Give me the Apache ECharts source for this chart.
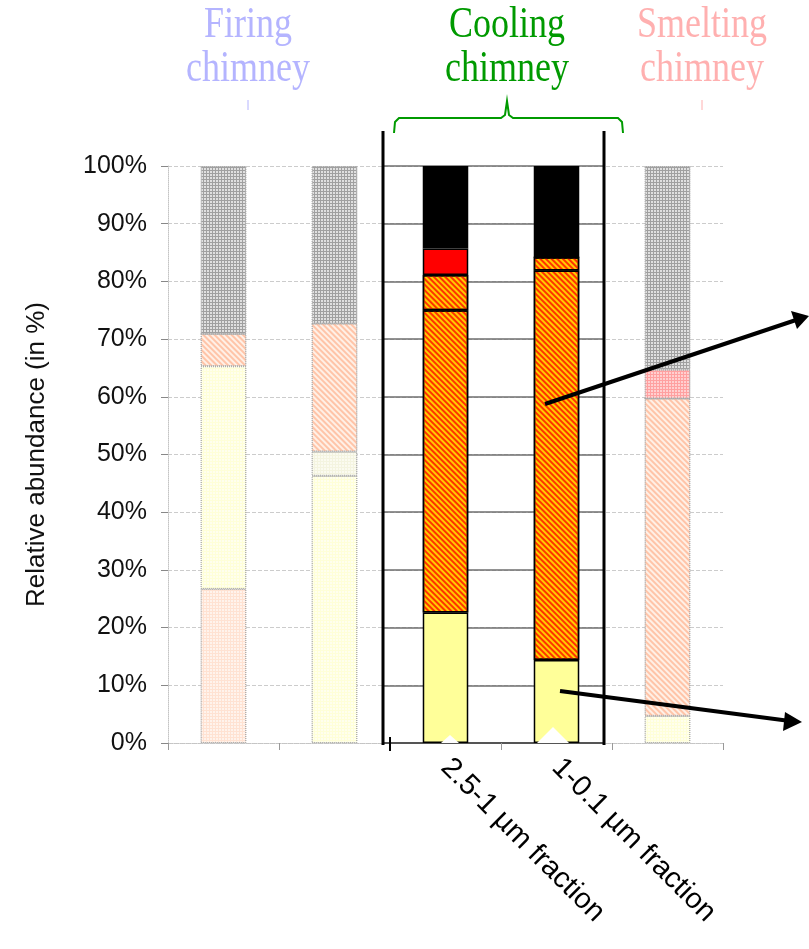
<!DOCTYPE html>
<html>
<head>
<meta charset="utf-8">
<script src="https://cdn.jsdelivr.net/npm/echarts@6/dist/echarts.min.js"></script>
<style>
html, body { margin: 0; padding: 0; background: #fff; }
#chart { width: 809px; height: 949px; }
</style>
</head>
<body>
<div id="chart"></div>
<script>
// categories (only the cooling chimney fractions are labelled)
var categories = ['', '', '2.5-1 µm fraction', '1-0.1 µm fraction', ''];
// stacked layers, bottom to top, in %
var baseLayer  = [26.7, 46.3, 22.6, 14.4, 4.7];
var mainLayer  = [38.6, 4.2, 52.4, 67.5, 55.0];
var minorLayer = [5.6, 22.2, 6.1, 2.3, 0];
var redLayer   = [0, 0, 4.6, 0, 5.0];
var topLayer   = [29.1, 27.3, 14.3, 15.8, 35.3];
var yTicks = [0, 10, 20, 30, 40, 50, 60, 70, 80, 90, 100];

// which bars are greyed out (firing / smelting chimney)
var faded = [true, true, false, false, true];

var hatch = { symbol: 'rect', symbolSize: 1, color: '#ff3300', dashArrayX: [1, 0], dashArrayY: [1.5, 1.5], rotation: Math.PI / 4 };
var paleHatch = { symbol: 'rect', symbolSize: 1, color: '#ffc4a8', dashArrayX: [1, 0], dashArrayY: [1.5, 1.5], rotation: Math.PI / 4 };
var dots = function (c) {
	return { symbol: 'rect', symbolSize: 1, color: c, dashArrayX: [2, 1], dashArrayY: [2, 1] };
};

// fill for each layer and bar
var styles = {
	base:  [{ c: '#ffe2d2', d: dots('#fff3ec') }, { c: '#ffffd8', d: dots('#ffffee') }, { c: '#ffff99' }, { c: '#ffff99' }, { c: '#ffffd8', d: dots('#ffffee') }],
	main:  [{ c: '#ffffd8', d: dots('#ffffee') }, { c: '#f4f4e0', d: dots('#fbfbf0') }, { c: '#ffcc00', d: hatch }, { c: '#ffcc00', d: hatch }, { c: '#fff0e6', d: paleHatch }],
	minor: [{ c: '#fff0e6', d: paleHatch }, { c: '#fff0e6', d: paleHatch }, { c: '#ffcc00', d: hatch }, { c: '#ffcc00', d: hatch }, { c: '#fff0e6', d: paleHatch }],
	red:   [{ c: '#ffaaaa' }, { c: '#ffaaaa' }, { c: '#ff0000' }, { c: '#ff0000' }, { c: '#ffa0a0', d: dots('#ffd0d0') }],
	top:   [{ c: '#a0a0a0', d: dots('#e0e0e0') }, { c: '#a0a0a0', d: dots('#e0e0e0') }, { c: '#000000' }, { c: '#000000' }, { c: '#a0a0a0', d: dots('#e0e0e0') }]
};

function layer(name, values) {
	return {
		name: name,
		type: 'bar',
		stack: 'total',
		barWidth: '41%',
		xAxisIndex: 0,
		yAxisIndex: 0,
		data: values.map(function (v, i) {
			var s = styles[name][i];
			return {
				value: v,
				itemStyle: {
					color: s.c,
					decal: s.d || null,
					borderColor: faded[i] ? '#aaaaaa' : '#000000',
					borderWidth: faded[i] ? 1 : 1.5,
					borderType: faded[i] ? 'dotted' : 'solid'
				}
			};
		})
	};
}

// stretched serif heading text
function heading(x, y, txt, color) {
	return {
		type: 'text', z: 50, x: x, y: y, scaleY: 1.22,
		style: { text: txt, fontFamily: 'Liberation Serif, Times New Roman', fontSize: 36, fill: color, textAlign: 'center', textVerticalAlign: 'middle' }
	};
}

var myChart = echarts.init(document.getElementById('chart'));

var option = {
	backgroundColor: '#fff',
	animation: false,
	grid: [
		{ left: 168, right: 86, top: 166, bottom: 206 },
		{ left: 383, right: 205, top: 166, bottom: 206 }
	],
	xAxis: [
		{
			type: 'category',
			gridIndex: 0,
			data: categories,
			axisLine: { lineStyle: { color: '#c4c4c4', type: 'dotted' } },
			axisTick: { show: true, length: 7, lineStyle: { color: '#999' } },
			axisLabel: {
				rotate: -45, interval: 0, margin: 20,
				fontFamily: 'Liberation Sans, Arial', fontSize: 29, color: '#000'
			}
		},
		{
			type: 'value', gridIndex: 1, min: 0, max: 1,
			axisLine: { show: true, lineStyle: { color: '#555', width: 2 } },
			axisTick: { show: false }, axisLabel: { show: false }, splitLine: { show: false }
		}
	],
	yAxis: [
		{
			type: 'value', gridIndex: 0, min: 0, max: 100, interval: 10,
			name: 'Relative abundance (in %)',
			nameLocation: 'middle', nameRotate: 90, nameGap: 118,
			nameTextStyle: { fontFamily: 'Liberation Sans, Arial', fontSize: 26, color: '#111' },
			axisLine: { show: true, lineStyle: { color: '#c4c4c4', type: 'dotted' } },
			axisTick: { show: true, length: 7, lineStyle: { color: '#888' } },
			axisLabel: {
				margin: 21, fontFamily: 'Liberation Sans, Arial', fontSize: 25, color: '#111',
				formatter: function (v) { return yTicks.indexOf(v) >= 0 ? v + '%' : ''; }
			},
			splitLine: { lineStyle: { color: '#cccccc', type: 'dashed' } }
		},
		{
			type: 'value', gridIndex: 1, min: 0, max: 100, interval: 10,
			axisLine: { show: false }, axisTick: { show: false }, axisLabel: { show: false },
			splitLine: { lineStyle: { color: '#6e6e6e', width: 1.5 } }
		}
	],
	series: [
		layer('base', baseLayer),
		layer('main', mainLayer),
		layer('minor', minorLayer),
		layer('red', redLayer),
		layer('top', topLayer)
	],
	graphic: [
		// cooling chimney frame
		{ type: 'line', z: 50, shape: { x1: 383, y1: 131, x2: 383, y2: 745 }, style: { stroke: '#000', lineWidth: 3 } },
		{ type: 'line', z: 50, shape: { x1: 604, y1: 131, x2: 604, y2: 745 }, style: { stroke: '#000', lineWidth: 3 } },
		{ type: 'line', z: 50, shape: { x1: 390, y1: 737, x2: 390, y2: 751 }, style: { stroke: '#000', lineWidth: 2 } },
		// white notches at bar feet
		{ type: 'polygon', z: 40, shape: { points: [[441, 743], [450, 735], [459, 743]] }, style: { fill: '#fff' } },
		{ type: 'polygon', z: 40, shape: { points: [[537, 743], [553, 727], [569, 743]] }, style: { fill: '#fff' } },
		// brace
		{
			type: 'polyline', z: 50,
			shape: { points: [[394, 133], [395, 122], [399, 118], [501, 118], [505, 115], [507, 101], [509, 115], [513, 118], [618, 118], [622, 122], [623, 133]] },
			style: { stroke: '#009a00', lineWidth: 2, fill: null }
		},
		// group titles
		heading(507, 25, 'Cooling', '#009a00'),
		heading(507, 69, 'chimney', '#009a00'),
		heading(248, 25, 'Firing', '#b4b4ff'),
		heading(248, 69, 'chimney', '#b4b4ff'),
		{ type: 'line', z: 50, shape: { x1: 248, y1: 100, x2: 248, y2: 110 }, style: { stroke: '#b4b4ff', lineWidth: 1 } },
		heading(702, 25, 'Smelting', '#ffb0b0'),
		heading(702, 69, 'chimney', '#ffb0b0'),
		{ type: 'line', z: 50, shape: { x1: 702, y1: 100, x2: 702, y2: 110 }, style: { stroke: '#ffb0b0', lineWidth: 1 } },
		// arrows
		{ type: 'line', z: 60, shape: { x1: 545, y1: 404, x2: 796, y2: 320 }, style: { stroke: '#000', lineWidth: 4 } },
		{ type: 'polygon', z: 60, shape: { points: [[809, 316], [791, 311], [797, 329]] }, style: { fill: '#000' } },
		{ type: 'line', z: 60, shape: { x1: 560, y1: 691, x2: 790, y2: 721 }, style: { stroke: '#000', lineWidth: 4 } },
		{ type: 'polygon', z: 60, shape: { points: [[802, 722], [785, 712], [783, 731]] }, style: { fill: '#000' } }
	]
};

myChart.setOption(option);
</script>
</body>
</html>
